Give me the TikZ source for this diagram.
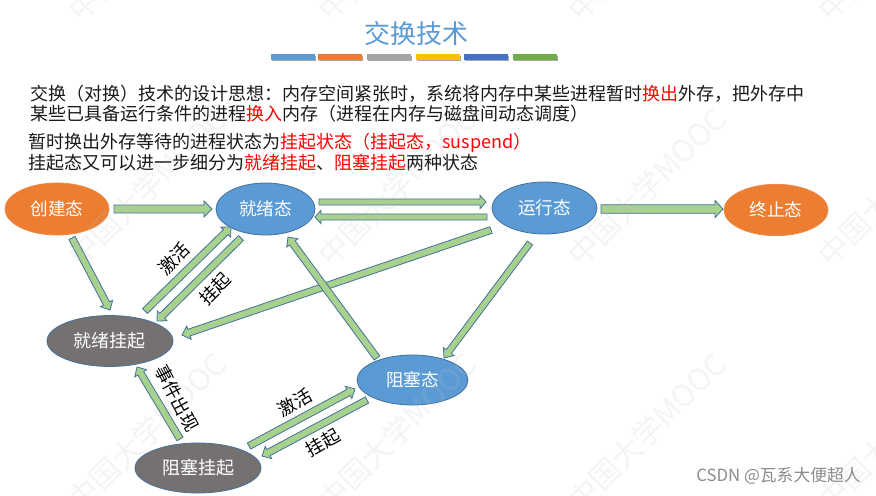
\documentclass[tikz,border=0pt]{standalone}
\usepackage{fontspec}
\setmainfont{Noto Sans CJK SC}
\usetikzlibrary{calc,shapes.geometric}
\definecolor{nodeedge}{HTML}{41719C}
\definecolor{nodeblue}{HTML}{5B9BD5}
\definecolor{nodeorange}{HTML}{ED7D31}
\definecolor{nodegrey}{HTML}{767171}
\definecolor{arrowfill}{HTML}{A9D18E}
\definecolor{barA}{HTML}{5B9BD5}
\definecolor{barB}{HTML}{ED7D31}
\definecolor{barC}{HTML}{A5A5A5}
\definecolor{barD}{HTML}{FFC000}
\definecolor{barE}{HTML}{4472C4}
\definecolor{barF}{HTML}{70AD47}
\definecolor{keyred}{HTML}{FF0000}
\tikzset{
  stateblue/.style={ellipse,draw=nodeedge,line width=.6pt,fill=nodeblue,text=white,inner sep=0pt,font=\fontsize{13.2}{15}\selectfont},
  stateorange/.style={stateblue,draw=nodeorange!90!white,fill=nodeorange},
  stategrey/.style={stateblue,fill=nodegrey,font=\fontsize{13.5}{15}\selectfont},
  bodytext/.style={anchor=west,inner sep=0pt,text=black!90,font=\fontsize{13.5}{15}\selectfont},
  edgelabel/.style={inner sep=0pt,text=black,font=\fontsize{13.5}{15}\selectfont},
  blockstyle/.style={draw=nodeedge,line width=.6pt,fill=arrowfill,line join=miter},
  watermark/.style={inner sep=0pt,rotate=45,text=black!25,opacity=.16,font=\fontsize{22.5}{24}\selectfont},
}
\newcommand{\blockarrow}[5]{%
  \coordinate (tmpH) at ($(#2)!#5!(#1)$);
  \draw[blockstyle] ($(#1)!#3!90:(#2)$) -- ($(tmpH)!#3!90:(#2)$) -- ($(tmpH)!#4!90:(#2)$) -- (#2)
    -- ($(tmpH)!#4!-90:(#2)$) -- ($(tmpH)!#3!-90:(#2)$) -- ($(#1)!#3!-90:(#2)$) -- cycle;
}
\newcommand{\barmark}[3]{%
  \fill[black!35] (#1+1.2,55.5) rectangle (#2+1.2,61);
  \fill[#3] (#1,54) rectangle (#2,59.5);
}
\begin{document}
\begin{tikzpicture}[x=.75pt,y=-.75pt]
\useasboundingbox (0,0) rectangle (876,496);
\fill[white] (0,0) rectangle (876,496);

% title and bars
\node[inner sep=0pt,text=nodeblue,font=\fontsize{19.5}{22}\selectfont] (title) at (416,34) {交换技术};
\barmark{271}{315}{barA}
\barmark{318}{362}{barB}
\barmark{367}{411}{barC}
\barmark{416}{460}{barD}
\barmark{464}{508}{barE}
\barmark{513}{557}{barF}

% body text
\node[bodytext] (lineA) at (30,94) {交换（对换）技术的设计思想：内存空间紧张时，系统将内存中某些进程暂时\textcolor{keyred}{换出}外存，把外存中};
\node[bodytext] (lineB) at (30,114) {某些已具备运行条件的进程\textcolor{keyred}{换入}内存（进程在内存与磁盘间动态调度）};
\node[bodytext] (lineC) at (28,143) {暂时换出外存等待的进程状态为\textcolor{keyred}{挂起状态（挂起态，suspend）}};
\node[bodytext] (lineD) at (28,163) {挂起态又可以进一步细分为\textcolor{keyred}{就绪挂起}、\textcolor{keyred}{阻塞挂起}两种状态};

% states
\node[stateorange,minimum width=78pt,minimum height=39pt] (create) at (57,209) {创建态};
\node[stateblue,minimum width=74.2pt,minimum height=39pt] (ready) at (265.5,209) {就绪态};
\node[stateblue,minimum width=78.7pt,minimum height=39pt] (run) at (544.5,208) {运行态};
\node[stateorange,minimum width=78pt,minimum height=38.5pt] (term) at (776,210) {终止态};
\node[stategrey,minimum width=94.5pt,minimum height=38.2pt] (rs) at (110,341) {就绪挂起};
\node[stategrey,minimum width=94.5pt,minimum height=37.5pt] (bs) at (198,468) {阻塞挂起};
\node[stateblue,minimum width=83.2pt,minimum height=37.5pt] (block) at (412.5,380) {阻塞态};

% connectors
\coordinate (aS) at ($(create)+(57,0)$);   \coordinate (aE) at ($(ready)+(-53.5,0)$);
\blockarrow{aS}{aE}{3pt}{6pt}{6pt}
\coordinate (bS) at ($(ready)+(53.5,-7)$); \coordinate (bE) at ($(run)+(-58.5,-6)$);
\blockarrow{bS}{bE}{2.3pt}{5pt}{4.5pt}
\coordinate (cS) at ($(run)+(-57.5,9)$);   \coordinate (cE) at ($(ready)+(49.5,8)$);
\blockarrow{cS}{cE}{2.3pt}{5pt}{4.5pt}
\coordinate (dS) at ($(run)+(56.5,1)$);    \coordinate (dE) at ($(term)+(-53,-1)$);
\blockarrow{dS}{dE}{3.2pt}{6.4pt}{6pt}
\coordinate (eS) at ($(create)+(15,29)$);  \coordinate (eE) at ($(rs)+(0,-31)$);
\blockarrow{eS}{eE}{2.6pt}{5.2pt}{5.5pt}
\coordinate (fS) at ($(rs)+(35,-30)$);     \coordinate (fE) at ($(ready)+(-34.5,18)$);
\blockarrow{fS}{fE}{2.6pt}{5.2pt}{5.5pt}
\coordinate (gS) at ($(ready)+(-24.5,29)$);\coordinate (gE) at ($(rs)+(47,-20)$);
\blockarrow{gS}{gE}{2.6pt}{5.2pt}{5.5pt}
\coordinate (hS) at ($(run)+(-53.5,22)$);  \coordinate (hE) at ($(rs)+(72,-6)$);
\blockarrow{hS}{hE}{2.6pt}{5.2pt}{5.5pt}
\coordinate (iS) at ($(run)+(-14.5,35)$);  \coordinate (iE) at ($(block)+(31.5,-22)$);
\blockarrow{iS}{iE}{2.4pt}{5pt}{6pt}
\coordinate (jS) at ($(block)+(-35.5,-22)$);\coordinate (jE) at ($(ready)+(22.5,28)$);
\blockarrow{jS}{jE}{2.6pt}{5.2pt}{5.5pt}
\coordinate (kS) at ($(bs)+(-18,-29)$);    \coordinate (kE) at ($(rs)+(27,26)$);
\blockarrow{kS}{kE}{2.6pt}{5.2pt}{5.5pt}
\coordinate (lS) at ($(bs)+(51,-22)$);     \coordinate (lE) at ($(block)+(-57.5,9)$);
\blockarrow{lS}{lE}{2.6pt}{5.2pt}{5.5pt}
\coordinate (mS) at ($(block)+(-45.5,20)$);\coordinate (mE) at ($(bs)+(64,-12)$);
\blockarrow{mS}{mE}{2.6pt}{5.2pt}{5.5pt}

% connector labels
\node[edgelabel,rotate=45] (labA) at (174,259) {激活};
\node[edgelabel,rotate=45] (labB) at (215,289) {挂起};
\node[edgelabel,rotate=-62] (labC) at (177,398) {事件出现};
\node[edgelabel,rotate=30] (labD) at (295,403) {激活};
\node[edgelabel,rotate=30] (labE) at (323,443) {挂起};

% watermark
\foreach \wx/\wn in {-103/a,147/b,397/c,647/d,897/e}
  \foreach \wy/\wm in {-58/p,187/q,432/r}
    \node[watermark] (wm\wn\wm) at (\wx,\wy) {中国大学MOOC};

\node[inner sep=0pt,anchor=east,text=black!45,font=\fontsize{12.6}{15}\selectfont] (csdn) at (861,476) {CSDN @瓦系大便超人};
\end{tikzpicture}
\end{document}
